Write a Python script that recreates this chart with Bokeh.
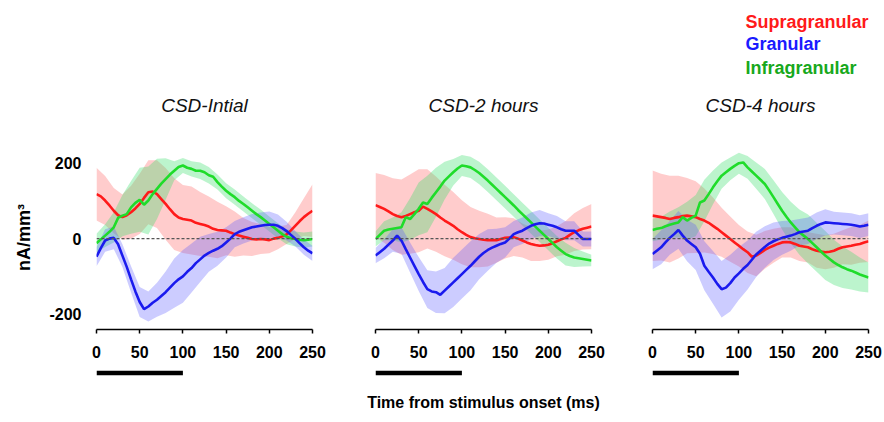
from bokeh.plotting import figure
from bokeh.layouts import row, column
from bokeh.models import Range1d, Span, Title, FixedTicker
from bokeh.embed import file_html
from bokeh.resources import INLINE

# ---------------- data ----------------
t_mean = list(range(0, 255, 5))      # ms, mean traces
t_band = list(range(0, 260, 10))     # ms, error band samples
x_ticks = [0, 50, 100, 150, 200, 250]
y_ticks = [-200, 0, 200]
y_tick_labels = {-200: "-200", 0: "0", 200: "200"}
stim_start, stim_end = 0, 100
panel_titles = ["CSD-Intial", "CSD-2 hours", "CSD-4 hours"]
layer_names = ["Supragranular", "Granular", "Infragranular"]

supra_1 = [118, 112, 101, 88, 74, 62, 57, 62, 70, 80, 92, 108, 123, 125, 118, 105, 92, 78, 65, 56, 52,
           50, 48, 42, 39, 36, 32, 26, 23, 22, 21, 16, 12, 8, 5, 2, -1, -2, -1, -2, -4, 0, 2, 6, 11,
           22, 34, 46, 57, 66, 74]
gran_1 = [-48, -25, -5, 0, 2, -15, -45, -75, -108, -140, -168, -187, -180, -170, -162, -152, -142,
          -130, -118, -108, -100, -88, -78, -65, -55, -45, -38, -32, -27, -20, -10, 0, 12, 18, 22, 26,
          30, 32, 34, 36, 37, 37, 34, 28, 20, 10, 0, -12, -23, -32, -39]
infra_1 = [-12, -2, 8, 18, 30, 55, 61, 65, 83, 95, 103, 90, 101, 118, 132, 146, 158, 170, 180, 190,
           194, 188, 185, 180, 180, 176, 168, 164, 150, 138, 127, 118, 110, 100, 92, 83, 74, 65, 57,
           48, 39, 30, 21, 12, 5, 1, -1, -3, -4, -3, -1]
supra_err_1 = [70, 65, 60, 60, 70, 80, 85, 90, 95, 95, 90, 90, 85, 80, 75, 65, 60, 50, 45, 40, 35, 30,
               25, 35, 50, 70]
gran_err_1 = [25, 30, 30, 30, 35, 40, 40, 45, 55, 65, 70, 65, 60, 50, 45, 40, 35, 35, 35, 35, 35, 30,
              25, 20, 20, 20]
infra_err_1 = [25, 30, 40, 55, 70, 85, 90, 80, 55, 25, 20, 20, 22, 22, 20, 20, 20, 20, 20, 20, 20, 20,
               20, 20, 20, 20]

supra_2 = [89, 84, 79, 72, 65, 60, 57, 60, 65, 70, 74, 85, 79, 72, 65, 56, 48, 41, 34, 25, 17, 10, 4,
           1, -1, -3, -4, -4, -4, -1, 2, 3, 4, 0, -5, -10, -14, -17, -19, -18, -16, -12, -7, -2, 2, 10,
           17, 22, 26, 29, 32]
gran_2 = [-45, -36, -27, -16, -5, 8, -5, -28, -50, -72, -94, -115, -134, -140, -142, -149, -138, -127,
          -116, -105, -94, -83, -72, -60, -48, -38, -30, -24, -19, -14, -10, 0, 12, 17, 21, 28, 34, 38,
          41, 40, 37, 34, 30, 25, 21, 21, 21, 10, -1, -1, -1]
infra_2 = [-1, 10, 21, 24, 26, 28, 30, 57, 52, 65, 79, 96, 92, 108, 123, 138, 154, 165, 176, 186, 194,
           192, 189, 182, 174, 164, 154, 143, 132, 121, 110, 99, 88, 76, 65, 54, 43, 32, 21, 10, -1,
           -12, -23, -32, -41, -46, -50, -52, -54, -56, -58]
supra_err_2 = [85, 90, 95, 100, 105, 110, 105, 100, 95, 90, 85, 80, 75, 70, 60, 55, 50, 45, 45, 40, 40,
               40, 45, 50, 55, 60]
gran_err_2 = [20, 25, 30, 35, 40, 45, 50, 55, 60, 65, 65, 65, 60, 55, 45, 40, 35, 35, 35, 35, 30, 30,
              25, 25, 20, 20]
infra_err_2 = [20, 25, 30, 40, 55, 70, 75, 65, 50, 35, 28, 28, 30, 30, 30, 30, 30, 30, 30, 30, 30, 30,
               30, 25, 20, 15]

supra_3 = [61, 59, 57, 55, 52, 55, 57, 60, 61, 59, 57, 52, 48, 42, 34, 26, 17, 8, -1, -10, -19, -28,
           -36, -48, -45, -38, -30, -24, -19, -14, -10, -9, -10, -14, -19, -21, -23, -28, -32, -34, -36,
           -35, -32, -27, -23, -21, -19, -16, -14, -10, -7]
gran_3 = [-41, -32, -23, -10, 2, 12, 23, 8, -5, -14, -23, -40, -72, -88, -103, -120, -134, -130, -118,
          -103, -92, -80, -70, -56, -42, -32, -22, -13, -7, -2, 2, 5, 8, 12, 17, 19, 21, 28, 34, 39, 43,
          42, 41, 40, 39, 38, 37, 35, 32, 34, 37]
infra_3 = [23, 26, 28, 33, 37, 40, 43, 57, 48, 55, 61, 96, 101, 118, 136, 152, 167, 176, 185, 193, 200,
           202, 189, 178, 167, 156, 145, 128, 110, 92, 74, 58, 43, 30, 17, 8, -1, -12, -23, -34, -45,
           -54, -63, -70, -76, -81, -85, -90, -95, -99, -103]
supra_err_3 = [120, 115, 115, 110, 100, 95, 85, 75, 65, 60, 55, 55, 55, 50, 45, 40, 40, 40, 40, 45, 45,
               45, 45, 50, 50, 55]
gran_err_3 = [40, 45, 45, 50, 55, 60, 65, 70, 75, 75, 70, 65, 60, 55, 50, 45, 40, 35, 35, 35, 35, 30,
              30, 30, 30, 30]
infra_err_3 = [30, 30, 35, 40, 50, 55, 55, 45, 35, 30, 28, 30, 35, 40, 45, 50, 55, 60, 65, 65, 65, 60,
               55, 50, 45, 40]

panels = [
    (supra_1, gran_1, infra_1, supra_err_1, gran_err_1, infra_err_1),
    (supra_2, gran_2, infra_2, supra_err_2, gran_err_2, infra_err_2),
    (supra_3, gran_3, infra_3, supra_err_3, gran_err_3, infra_err_3),
]

# ---------------- style ----------------
LINE_COLORS = ["#ff1a1a", "#1a1aee", "#1fdc2a"]
BAND_COLORS = ["#ff5555", "#5555ff", "#33dd66"]
BAND_ALPHA = [0.3, 0.3, 0.33]
LEGEND_COLORS = ["#ff1a1a", "#1a1aff", "#17a81c"]
FONT = "Liberation Sans"

FRAME_W, FRAME_H = 216, 184
BORDER_L = [96, 43, 41]
BORDER_R = [20, 20, 14]
TOP = 145
MAIN_BOTTOM = 37
LEGEND_OFFSET = 93
LEGEND_STANDOFF = [0, 1, 2]   # supra, gran, infra


def make_panel(i):
    supra, gran, infra, e_s, e_g, e_i = panels[i]
    p = figure(frame_width=FRAME_W, frame_height=FRAME_H,
               x_range=Range1d(0, 250), y_range=Range1d(-241, 247),
               output_backend="svg", toolbar_location=None,
               min_border_left=BORDER_L[i], min_border_right=BORDER_R[i],
               min_border_top=TOP, min_border_bottom=MAIN_BOTTOM)
    p.title = None
    p.outline_line_color = None
    p.grid.visible = False

    series = [(supra, e_s), (gran, e_g), (infra, e_i)]
    for k in [0, 2, 1]:
        m, e = series[k]
        mb = m[::2]
        lo = [a - b for a, b in zip(mb, e)]
        hi = [a + b for a, b in zip(mb, e)]
        p.varea(x=t_band, y1=lo, y2=hi, fill_color=BAND_COLORS[k], fill_alpha=BAND_ALPHA[k])
    p.add_layout(Span(location=0, dimension="width", line_color="#555555",
                      line_dash="3 2", line_width=1.2))
    for k in [0, 2, 1]:
        m, _ = series[k]
        p.line(t_mean, m, line_color=LINE_COLORS[k], line_width=2.6)

    xa = p.xaxis[0]
    xa.ticker = FixedTicker(ticks=x_ticks)
    xa.major_tick_out = 4
    xa.major_tick_in = 0
    xa.minor_tick_line_color = None
    xa.axis_line_width = 1.5
    xa.major_tick_line_width = 1.5
    xa.major_label_text_font = FONT
    xa.major_label_text_font_style = "bold"
    xa.major_label_text_font_size = "16px"
    xa.major_label_text_color = "black"
    xa.major_label_standoff = 12

    if i == 0:
        ya = p.yaxis[0]
        ya.ticker = FixedTicker(ticks=y_ticks)
        ya.major_label_overrides = y_tick_labels
        ya.axis_line_color = None
        ya.major_tick_line_color = None
        ya.minor_tick_line_color = None
        ya.major_tick_out = 0
        ya.major_tick_in = 0
        ya.major_label_text_font = FONT
        ya.major_label_text_font_style = "bold"
        ya.major_label_text_font_size = "16px"
        ya.major_label_text_color = "black"
        ya.major_label_standoff = 15
        ya.axis_label = "nA/mm³"
        ya.axis_label_text_font = FONT
        ya.axis_label_text_font_style = "bold"
        ya.axis_label_text_font_size = "18px"
        ya.axis_label_text_color = "black"
        ya.axis_label_standoff = 12
    else:
        p.yaxis.visible = False

    # spacer between frame and panel title (closest to the frame)
    p.add_layout(Title(text=" ", text_font_size="1px", standoff=12), "above")
    p.add_layout(Title(text=panel_titles[i], text_font=FONT, text_font_style="italic",
                       text_font_size="19px", align="center", standoff=29,
                       text_color="#111111"), "above")
    if i == 2:
        for k in [2, 1, 0]:
            p.add_layout(Title(text=layer_names[k], text_font=FONT, text_font_style="bold",
                               text_font_size="18px", align="left", offset=LEGEND_OFFSET,
                               standoff=LEGEND_STANDOFF[k], text_color=LEGEND_COLORS[k]), "above")
    return p


def make_bar(i, p):
    b = figure(frame_width=FRAME_W, frame_height=5, x_range=p.x_range, y_range=Range1d(0, 1),
               output_backend="svg", toolbar_location=None,
               min_border_left=BORDER_L[i], min_border_right=BORDER_R[i],
               min_border_top=4, min_border_bottom=38 if i == 1 else 4)
    b.title = None
    b.outline_line_color = None
    b.grid.visible = False
    b.quad(left=[stim_start], right=[stim_end], bottom=[0], top=[1],
           fill_color="black", line_color=None)
    b.yaxis.visible = False
    if i == 1:
        xa = b.xaxis[0]
        xa.ticker = FixedTicker(ticks=[])
        xa.axis_line_color = None
        xa.major_tick_line_color = None
        xa.minor_tick_line_color = None
        xa.major_label_standoff = 0
        xa.axis_label = "Time from stimulus onset (ms)"
        xa.axis_label_text_font = FONT
        xa.axis_label_text_font_style = "bold"
        xa.axis_label_text_font_size = "16px"
        xa.axis_label_text_color = "black"
        xa.axis_label_standoff = 18
    else:
        b.xaxis.visible = False
    return b


cols = []
for i in range(3):
    p = make_panel(i)
    b = make_bar(i, p)
    cols.append(column(p, b, spacing=0))

layout = row(*cols, spacing=0)

open("out.html", "w").write(file_html(layout, INLINE))
